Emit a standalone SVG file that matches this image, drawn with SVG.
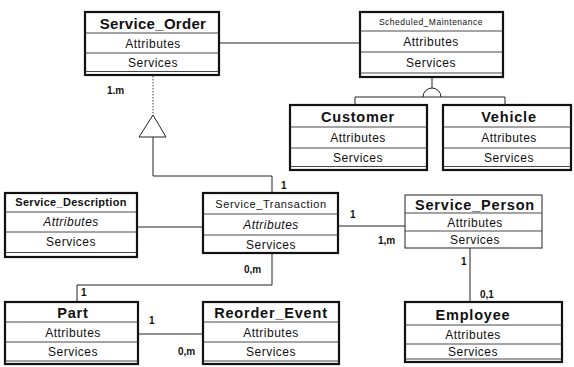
<svg xmlns="http://www.w3.org/2000/svg" width="574" height="367" viewBox="0 0 574 367">
<style>
  .box { fill: #fff; stroke: #111; stroke-width: 2.2; }
  .thin { fill: #fff; stroke: #222; stroke-width: 1; }
  .row { stroke: #333; stroke-width: 0.9; fill: none; }
  .conn { stroke: #222; stroke-width: 1; fill: none; }
  .dot { stroke: #444; stroke-width: 1; fill: none; stroke-dasharray: 1.5 1.5; }
  text { font-family: "Liberation Sans", Arial, sans-serif; fill: #111; text-anchor: middle; }
  .t1 { font-size: 15px; font-weight: bold; letter-spacing: 0.3px; }
  .t2 { font-size: 14.5px; font-weight: bold; letter-spacing: 0.8px; }
  .t3 { font-size: 11px; font-weight: bold; letter-spacing: 0.3px; }
  .t4 { font-size: 11px; letter-spacing: 0.6px; }
  .t5 { font-size: 8.5px; letter-spacing: 0.5px; }
  .a { font-size: 12px; letter-spacing: 0.5px; }
  .ai { font-size: 12px; font-style: italic; letter-spacing: 0.5px; }
  .lbl { font-size: 10px; text-anchor: start; font-weight: bold; }
</style>

<g id="connectors">
  <!-- Service_Order to Scheduled_Maintenance -->
  <line class="conn" x1="220" y1="43" x2="360" y2="43"/>
  <!-- generalization to Service_Order -->
  <line class="dot" x1="153" y1="76" x2="153" y2="115"/>
  <polygon points="153,115 139,137 166,137" fill="#fff" stroke="#222" stroke-width="1"/>
  <polyline class="conn" points="153,137 153,176 272,176 272,193"/>
  <!-- Scheduled_Maintenance aggregation -->
  <line class="conn" x1="432" y1="77" x2="432" y2="88"/>
  <path class="conn" d="M423,97 A9,9 0 0 1 441,97"/>
  <polyline class="conn" points="355,105 355,97 505,97 505,105"/>
  <!-- Service_Description to Service_Transaction -->
  <line class="conn" x1="137" y1="227" x2="203" y2="227"/>
  <!-- Service_Transaction to Service_Person -->
  <line class="conn" x1="338" y1="226" x2="405" y2="226"/>
  <!-- Service_Person to Employee -->
  <line class="conn" x1="470" y1="248" x2="470" y2="302"/>
  <!-- Service_Transaction to Part -->
  <polyline class="conn" points="272,253 272,285 77,285 77,302"/>
  <!-- Part to Reorder_Event -->
  <line class="conn" x1="138" y1="334" x2="203" y2="334"/>
  <!-- multiplicities -->
  <text class="lbl" x="107" y="94">1.m</text>
  <text class="lbl" x="281" y="189">1</text>
  <text class="lbl" x="350" y="218">1</text>
  <text class="lbl" x="378" y="244">1,m</text>
  <text class="lbl" x="461" y="265">1</text>
  <text class="lbl" x="480" y="298">0,1</text>
  <text class="lbl" x="244" y="273">0,m</text>
  <text class="lbl" x="81" y="296">1</text>
  <text class="lbl" x="149" y="324">1</text>
  <text class="lbl" x="178" y="355">0,m</text>
</g>

<g id="Service_Order">
  <rect class="box" x="85" y="12" width="134" height="63"/>
  <line class="row" x1="85" y1="33" x2="219" y2="33"/>
  <line class="row" x1="85" y1="53" x2="219" y2="53"/>
  <line class="row" x1="85" y1="71.5" x2="219" y2="71.5"/>
  <text class="t1" x="153" y="29">Service_Order</text>
  <text class="a" x="153" y="48">Attributes</text>
  <text class="a" x="153" y="67">Services</text>
</g>

<g id="Scheduled_Maintenance">
  <rect class="box" x="360" y="12" width="143" height="65"/>
  <line class="row" x1="360" y1="31" x2="503" y2="31"/>
  <line class="row" x1="360" y1="52" x2="503" y2="52"/>
  <line class="row" x1="360" y1="73" x2="503" y2="73"/>
  <text class="t5" x="431" y="25">Scheduled_Maintenance</text>
  <text class="a" x="431" y="46">Attributes</text>
  <text class="a" x="431" y="67">Services</text>
</g>

<g id="Customer">
  <rect class="box" x="290" y="105" width="137" height="65"/>
  <line class="row" x1="290" y1="127" x2="427" y2="127"/>
  <line class="row" x1="290" y1="148" x2="427" y2="148"/>
  <line class="row" x1="290" y1="166.5" x2="427" y2="166.5"/>
  <text class="t2" x="358" y="122">Customer</text>
  <text class="a" x="358" y="142">Attributes</text>
  <text class="a" x="358" y="162">Services</text>
</g>

<g id="Vehicle">
  <rect class="box" x="443" y="105" width="128" height="65"/>
  <line class="row" x1="443" y1="127" x2="571" y2="127"/>
  <line class="row" x1="443" y1="148" x2="571" y2="148"/>
  <line class="row" x1="443" y1="166.5" x2="571" y2="166.5"/>
  <text class="t2" x="509" y="122">Vehicle</text>
  <text class="a" x="509" y="142">Attributes</text>
  <text class="a" x="509" y="162">Services</text>
</g>

<g id="Service_Description">
  <rect class="box" x="5" y="193" width="132" height="64"/>
  <line class="row" x1="5" y1="212" x2="137" y2="212"/>
  <line class="row" x1="5" y1="232" x2="137" y2="232"/>
  <line class="row" x1="5" y1="252.5" x2="137" y2="252.5"/>
  <text class="t3" x="71" y="206">Service_Description</text>
  <text class="ai" x="71" y="226">Attributes</text>
  <text class="a" x="71" y="246">Services</text>
</g>

<g id="Service_Transaction">
  <rect class="box" x="203" y="193" width="135" height="60"/>
  <line class="row" x1="203" y1="214" x2="338" y2="214"/>
  <line class="row" x1="203" y1="235" x2="338" y2="235"/>
  <text class="t4" x="271" y="208">Service_Transaction</text>
  <text class="ai" x="271" y="229">Attributes</text>
  <text class="a" x="271" y="249">Services</text>
</g>

<g id="Service_Person">
  <rect class="thin" x="405" y="195" width="137" height="53"/>
  <line class="row" x1="405" y1="213" x2="542" y2="213"/>
  <line class="row" x1="405" y1="231" x2="542" y2="231"/>
  <text class="t2" x="475" y="210">Service_Person</text>
  <text class="a" x="475" y="227">Attributes</text>
  <text class="a" x="475" y="244">Services</text>
</g>

<g id="Employee">
  <rect class="box" x="405" y="302" width="157" height="60"/>
  <line class="row" x1="405" y1="325" x2="562" y2="325"/>
  <line class="row" x1="405" y1="344" x2="562" y2="344"/>
  <line class="row" x1="405" y1="359" x2="562" y2="359"/>
  <text class="t2" x="473" y="320">Employee</text>
  <text class="a" x="473" y="339">Attributes</text>
  <text class="a" x="473" y="356">Services</text>
</g>

<g id="Part">
  <rect class="box" x="5" y="302" width="133" height="62"/>
  <line class="row" x1="5" y1="322" x2="138" y2="322"/>
  <line class="row" x1="5" y1="342" x2="138" y2="342"/>
  <line class="row" x1="5" y1="361" x2="138" y2="361"/>
  <text class="t2" x="73" y="318">Part</text>
  <text class="a" x="73" y="337">Attributes</text>
  <text class="a" x="73" y="356">Services</text>
</g>

<g id="Reorder_Event">
  <rect class="box" x="203" y="302" width="136" height="62"/>
  <line class="row" x1="203" y1="322" x2="339" y2="322"/>
  <line class="row" x1="203" y1="342" x2="339" y2="342"/>
  <line class="row" x1="203" y1="361" x2="339" y2="361"/>
  <text class="t2" x="271" y="318">Reorder_Event</text>
  <text class="a" x="271" y="337">Attributes</text>
  <text class="a" x="271" y="356">Services</text>
</g>
</svg>
